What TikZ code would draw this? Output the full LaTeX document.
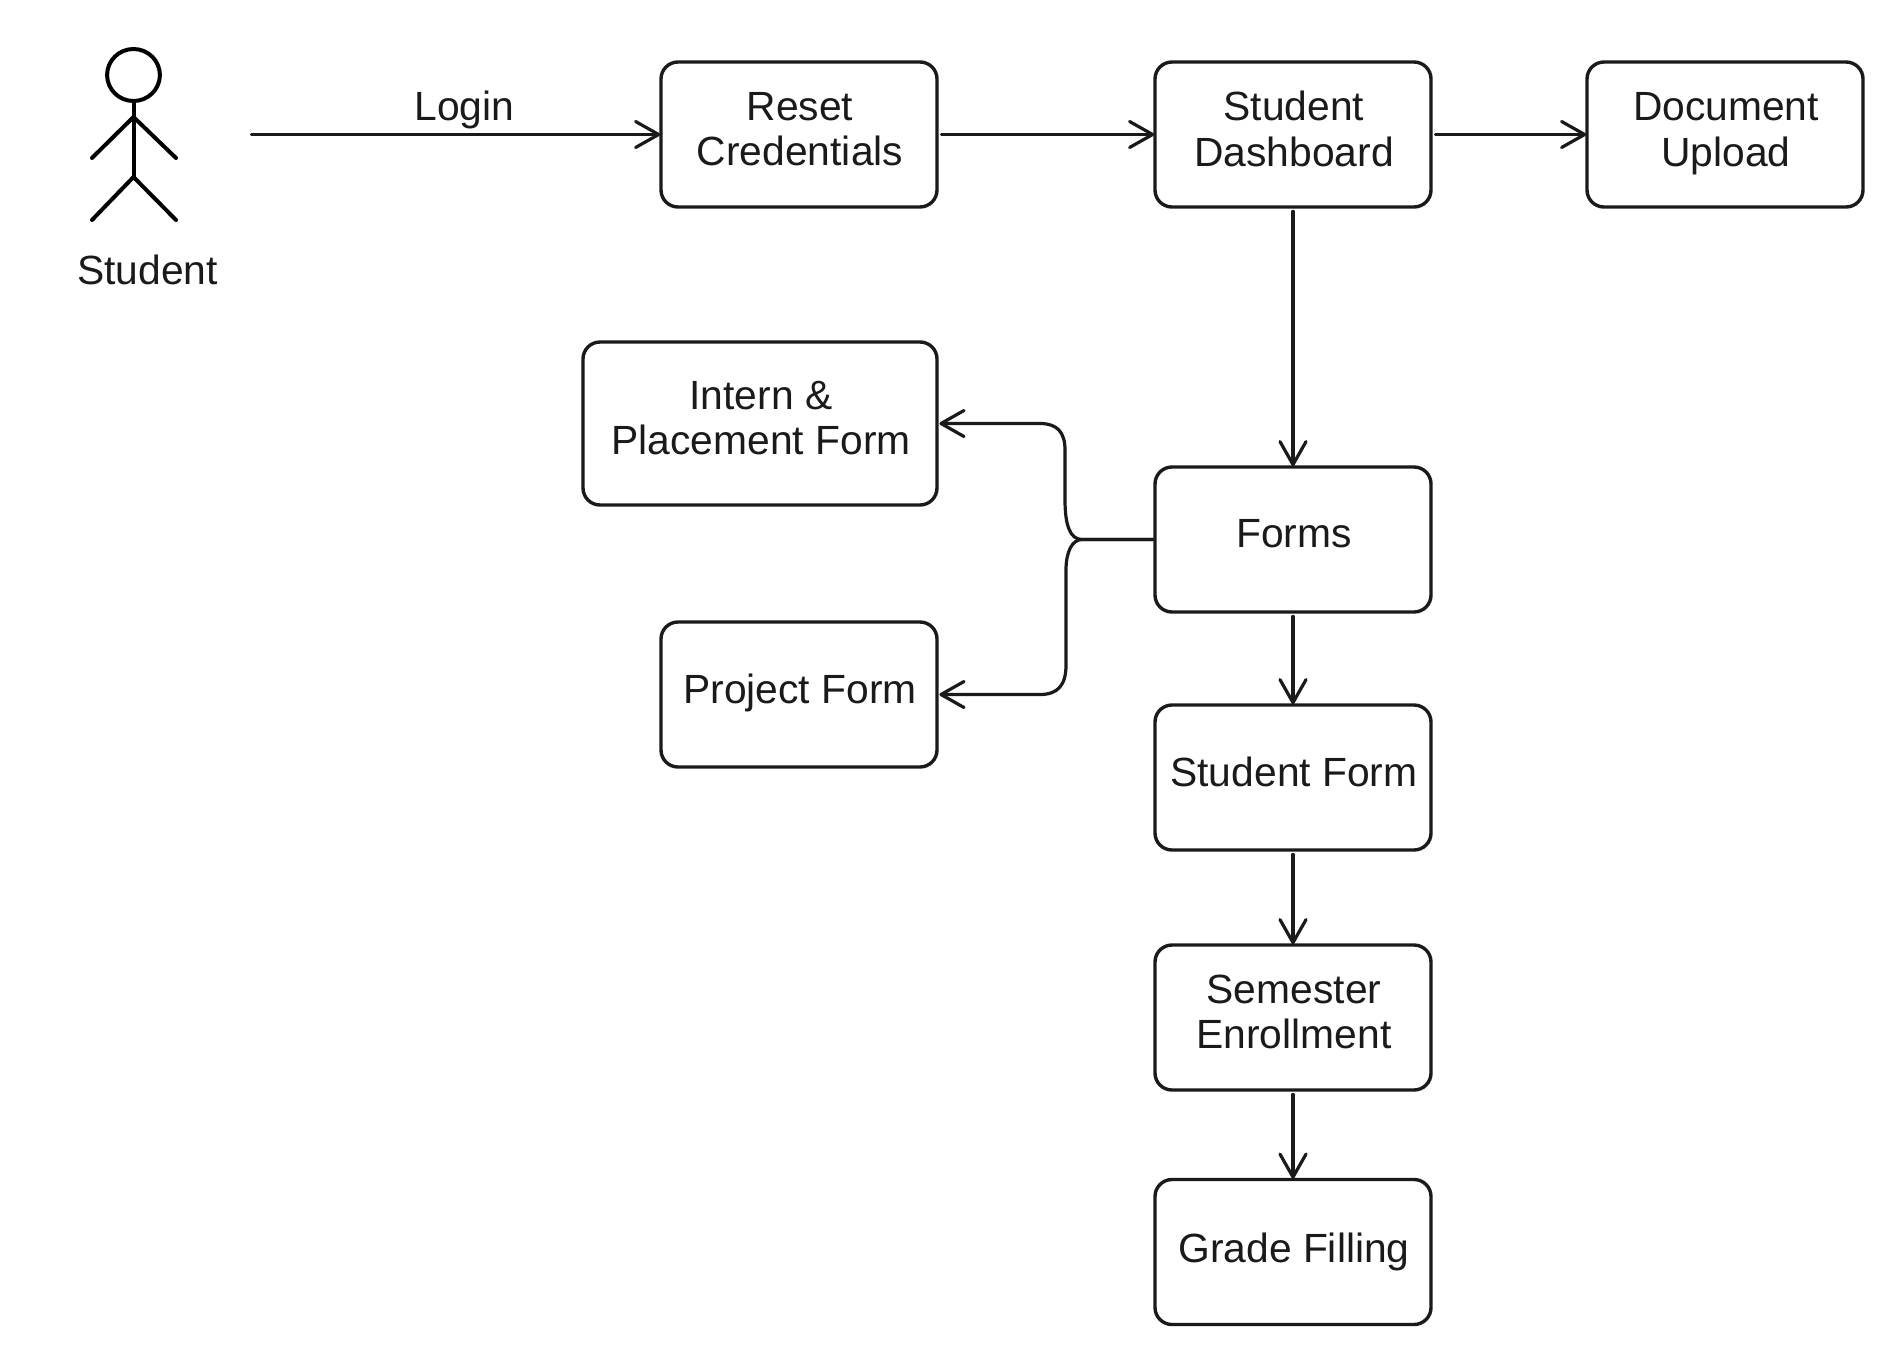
\documentclass[tikz,border=0pt]{standalone}
\usepackage{fontspec}
\setmainfont{Liberation Sans}
\usetikzlibrary{arrows.meta}
\definecolor{ink}{HTML}{1A1A1A}
\tikzset{
  boxnode/.style={draw=ink,line width=1.7pt,rounded corners=8.5pt,minimum width=138pt,minimum height=72.5pt,inner sep=0pt,outer sep=0pt},
  wide/.style={minimum width=177pt,minimum height=81.5pt},
  txt/.style={text=ink,font=\fontsize{20.4pt}{22.7pt}\selectfont,align=center,inner sep=0pt,outer sep=0pt},
  inbox/.style={txt,xshift=0.5pt,yshift=2.8pt},
  conn/.style={draw=ink,line width=1.6pt,line cap=round,line join=round,
    -{Straight Barb[length=11.5pt,width=13pt,line width=1.6pt,round]},shorten >=0.4pt,shorten <=2.2pt},
  connleft/.style={conn,shorten >=1.2pt,shorten <=1pt},
  actorline/.style={draw=black,line width=2pt,line cap=round,line join=round}
}
\begin{document}
\begin{tikzpicture}[x=0.5pt,y=-0.5pt]
\useasboundingbox (0,0) rectangle (1884,1344);
% actor
\draw[actorline] (133.5,75) ellipse [x radius=13.2pt,y radius=13pt];
\draw[actorline] (133.5,101) -- (133.5,177);
\draw[actorline] (92,158) -- (133.5,117) -- (176,158);
\draw[actorline] (92,220) -- (133.5,177) -- (176,220);
\node[txt] (studentlabel) at (147.5,269.5) {Student};
\coordinate (actorout) at (247,134.5);
% boxes
\node[boxnode] (reset) at (799,134.5) {};
\node[inbox] (resetT) at (reset) {Reset\\Credentials};
\node[boxnode] (dash) at (1293,134.5) {};
\node[inbox] (dashT) at (dash) {Student\\Dashboard};
\node[boxnode] (upload) at (1725,134.5) {};
\node[inbox,yshift=-2.4pt] (uploadT) at (upload) {Document\\Upload};
\node[boxnode,wide] (intern) at (760,423.5) {};
\node[inbox] (internT) at (intern) {Intern \&\\Placement Form};
\node[boxnode] (forms) at (1293,539.5) {};
\node[inbox] (formsT) at (forms) {Forms};
\node[boxnode] (project) at (799,694.5) {};
\node[inbox,yshift=-1.8pt] (projectT) at (project) {Project Form};
\node[boxnode] (sform) at (1293,777.5) {};
\node[inbox] (sformT) at (sform) {Student Form};
\node[boxnode] (sem) at (1293,1017.5) {};
\node[inbox] (semT) at (sem) {Semester\\Enrollment};
\node[boxnode] (grade) at (1293,1252) {};
\node[inbox,yshift=-3pt] (gradeT) at (grade) {Grade Filling};
% connectors
\draw[conn] (actorout) -- node[txt,above=3pt,pos=.525] (login) {Login} (reset.west);
\draw[conn] (reset.east) -- (dash.west);
\draw[conn] (dash.east) -- (upload.west);
\draw[conn] (dash.south) -- (forms.north);
\draw[conn] (forms.south) -- (sform.north);
\draw[conn] (sform.south) -- (sem.north);
\draw[conn] (sem.south) -- (grade.north);
\coordinate (fork) at (1082,539.5);
\draw[connleft] (forms.west) -- (fork) .. controls (1070,539.5) and (1065,525) .. (1065,500) -- (1065,450) .. controls (1065,432) and (1057,423.5) .. (1040,423.5) -- (intern.east);
\draw[connleft] (forms.west) -- (fork) .. controls (1072,539.5) and (1066,552) .. (1066,570) -- (1066,665) .. controls (1066,685) and (1058,694.5) .. (1040,694.5) -- (project.east);
\end{tikzpicture}
\end{document}
